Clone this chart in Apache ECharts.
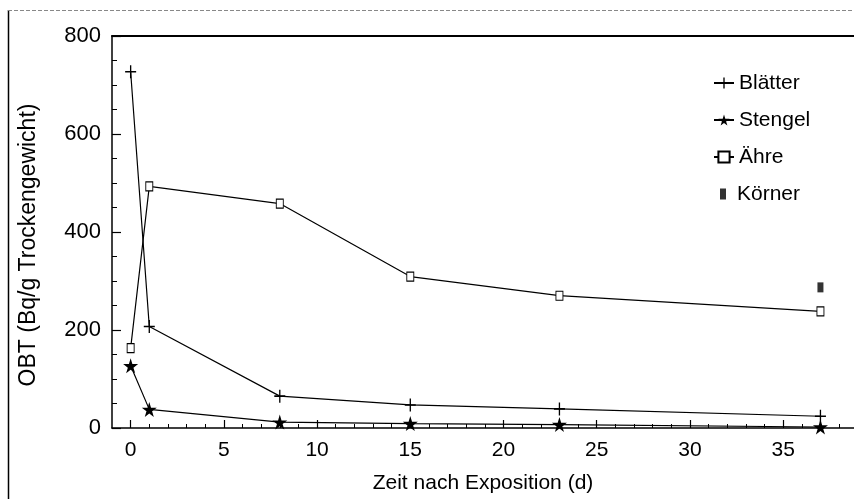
<!DOCTYPE html>
<html>
<head>
<meta charset="utf-8">
<script src="https://cdn.jsdelivr.net/npm/echarts@6/dist/echarts.min.js"></script>
<style>
html,body{margin:0;padding:0;background:#fff;}
#chart{width:854px;height:499px;}
</style>
</head>
<body>
<div id="chart"></div>
<script>
// Data (days after exposure, OBT in Bq/g dry weight)
const days = [0, 1, 8, 15, 23, 37];
const blaetter = [727, 207, 65, 47, 39, 24];
const stengel = [127, 38, 12, 9, 7, 2];
const aehre = [163, 493, 458, 309, 270, 238];
const koernerDay = [37];
const koerner = [287];
const xTickLabels = [0, 5, 10, 15, 20, 25, 30, 35];
const xMinorTicks = [0,1,2,3,4,5,6,7,8,9,10,11,12,13,14,15,16,17,18,19,20,21,22,23,24,25,26,27,28,29,30,31,32,33,34,35,36,37,38];
const seriesNames = ['Blätter', 'Stengel', 'Ähre', 'Körner'];

const pair = (xs, ys) => xs.map((x, i) => [x, ys[i]]);

const FONT = 'Liberation Sans';
const plusPath = 'path://M0,4.4h10v1.2h-10z M4.4,0h1.2v10h-1.2z';
const starPath = 'path://M50,0 L61,35 L98,35 L68,57 L79,91 L50,70 L21,91 L32,57 L2,35 L39,35 Z';

const chart = echarts.init(document.getElementById('chart'));
chart.setOption({
  animation: false,
  backgroundColor: '#fff',
  textStyle: { fontFamily: FONT, color: '#000' },
  grid: { left: 112, top: 36, right: 0, bottom: 69, containLabel: false },
  legend: [
    {
      orient: 'vertical',
      left: 713,
      top: 71,
      itemWidth: 20,
      itemHeight: 14,
      itemGap: 13,
      padding: 0,
      textStyle: { fontFamily: FONT, fontSize: 21, color: '#000', lineHeight: 24 },
      data: seriesNames.slice(0, 3)
    },
    {
      orient: 'vertical',
      left: 720,
      top: 182,
      padding: 0,
      itemWidth: 6,
      itemHeight: 11,
      textStyle: { fontFamily: FONT, fontSize: 21, color: '#000', lineHeight: 24, padding: [0, 0, 0, 6] },
      data: seriesNames.slice(3)
    }
  ],
  xAxis: [
    {
      type: 'value', min: -1, max: 38.8, position: 'bottom',
      name: 'Zeit nach Exposition (d)', nameLocation: 'middle', nameGap: 45,
      nameTextStyle: { fontFamily: FONT, fontSize: 21, color: '#000' },
      axisLine: { show: true, onZero: false, lineStyle: { color: '#000', width: 1.5 } },
      axisTick: { show: true, inside: true, length: 8, customValues: xTickLabels, lineStyle: { color: '#000', width: 1.2 } },
      axisLabel: { customValues: xTickLabels, margin: 12, fontFamily: FONT, fontSize: 21, color: '#000' },
      splitLine: { show: false }
    },
    {
      type: 'value', min: -1, max: 38.8, position: 'bottom',
      axisLine: { show: false, onZero: false },
      axisTick: { show: true, inside: true, length: 4, customValues: xMinorTicks, lineStyle: { color: '#000', width: 1 } },
      axisLabel: { show: false },
      splitLine: { show: false }
    },
    {
      type: 'value', min: -1, max: 38.8, position: 'top',
      axisLine: { show: true, onZero: false, lineStyle: { color: '#000', width: 2 } },
      axisTick: { show: false },
      axisLabel: { show: false },
      splitLine: { show: false }
    }
  ],
  yAxis: {
    type: 'value', min: 0, max: 800, interval: 200, position: 'left',
    name: 'OBT (Bq/g Trockengewicht)', nameLocation: 'middle', nameGap: 72, nameRotate: 90,
    nameTextStyle: { fontFamily: FONT, fontSize: 23, color: '#000', padding: [0, 26, 0, 0] },
    axisLine: { show: true, onZero: false, lineStyle: { color: '#000', width: 1.5 } },
    axisTick: { show: true, inside: true, length: 9, lineStyle: { color: '#000', width: 1.2 } },
    minorTick: { show: true, splitNumber: 4, length: 5, lineStyle: { color: '#000', width: 1 } },
    axisLabel: { margin: 11, fontFamily: FONT, fontSize: 22, color: '#000' },
    splitLine: { show: false }
  },
  series: [
    {
      name: seriesNames[0], type: 'line', data: pair(days, blaetter),
      symbol: plusPath, symbolSize: [11, 13], showAllSymbol: true,
      lineStyle: { color: '#000', width: 1.2 },
      itemStyle: { color: '#000', borderWidth: 0 }
    },
    {
      name: seriesNames[1], type: 'line', data: pair(days, stengel),
      symbol: starPath, symbolSize: 15, showAllSymbol: true,
      lineStyle: { color: '#000', width: 1.2 },
      itemStyle: { color: '#000', borderWidth: 0 }
    },
    {
      name: seriesNames[2], type: 'line', data: pair(days, aehre),
      symbol: 'rect', symbolSize: [7, 9], showAllSymbol: true,
      lineStyle: { color: '#000', width: 1.2 },
      itemStyle: { color: '#fff', borderColor: '#000', borderWidth: 1 }
    },
    {
      name: seriesNames[3], type: 'scatter', data: pair(koernerDay, koerner),
      symbol: 'rect', symbolSize: [6, 10],
      itemStyle: { color: '#000' }
    }
  ],
  graphic: [
    { type: 'line', shape: { x1: 8.5, y1: 10, x2: 8.5, y2: 499 }, style: { stroke: '#000', lineWidth: 1.5 }, silent: true },
    { type: 'line', shape: { x1: 8, y1: 10.5, x2: 854, y2: 10.5 }, style: { stroke: '#888', lineWidth: 1, lineDash: [4, 2] }, silent: true }
  ]
});
</script>
</body>
</html>
